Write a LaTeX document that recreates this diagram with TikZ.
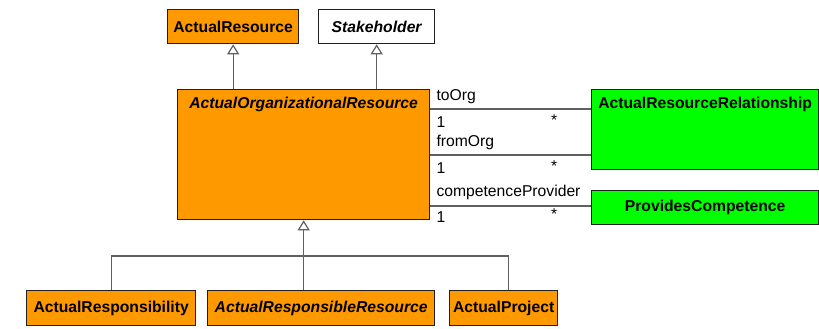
\documentclass[tikz,border=0pt]{standalone}
\usepackage{fontspec}
\setmainfont{Liberation Sans}
\usetikzlibrary{positioning,calc,arrows.meta}
\definecolor{umlOrangeFill}{HTML}{FF9900}
\definecolor{umlGreenFill}{HTML}{00FF00}
\definecolor{umlGreyLine}{HTML}{606060}
\definecolor{umlBoxLine}{HTML}{202020}
\tikzset{
  classbox/.style={
    draw=umlBoxLine, line width=1.3pt,
    anchor=north west, inner sep=0pt,
    font=\fontsize{15.7}{18}\selectfont\bfseries,
  },
  classtitle/.style={
    anchor=north, inner sep=0pt, yshift=-8pt,
    font=\fontsize{15.7}{18}\selectfont\bfseries,
  },
  gen arrow/.style={
    -{Triangle[open, length=10pt, width=12pt]},
    line width=1.2pt, color=umlGreyLine,
  },
  assoc line/.style={line width=1.2pt, color=umlGreyLine},
  role label/.style={anchor=west, inner sep=0pt,
    font=\fontsize{15.7}{18}\selectfont},
}

\begin{document}
\begin{tikzpicture}[x=1pt, y=-1pt]
\useasboundingbox (0,0) rectangle (819,329);

% --- TOP CLASSES ---
\node[classbox, fill=umlOrangeFill, minimum width=131pt, minimum height=34pt]
  (actres) at (167,9) {ActualResource};
\node[classbox, fill=white, minimum width=116pt, minimum height=34pt]
  (stake) at (318,9) {\itshape Stakeholder};

% --- CENTRAL CLASS ---
\node[classbox, fill=umlOrangeFill, minimum width=252pt, minimum height=130pt,
      label={[classtitle]north:{\itshape ActualOrganizationalResource}}]
  (aor) at (177,89) {};

% --- ASSOCIATED CLASSES ---
\node[classbox, fill=umlGreenFill, minimum width=227pt, minimum height=80pt,
      label={[classtitle]north:{ActualResourceRelationship}}]
  (relation) at (591,89) {};
\node[classbox, fill=umlGreenFill, minimum width=227pt, minimum height=34pt]
  (provcomp) at (591,190) {ProvidesCompetence};

% --- SUBCLASSES ---
\node[classbox, fill=umlOrangeFill, minimum width=169pt, minimum height=35pt]
  (respons) at (26,290) {ActualResponsibility};
\node[classbox, fill=umlOrangeFill, minimum width=227pt, minimum height=35pt]
  (respres) at (207,290) {\itshape ActualResponsibleResource};
\node[classbox, fill=umlOrangeFill, minimum width=108pt, minimum height=35pt]
  (project) at (449,290) {ActualProject};

% --- GENERALIZATIONS UP ---
\draw[gen arrow] (aor.north -| actres.south) -- (actres.south);
\draw[gen arrow] (aor.north -| stake.south) -- (stake.south);

% --- GENERALIZATION TREE BELOW ---
\coordinate (joint) at (aor.south |- 0,256);
\draw[gen arrow] (joint) -- (aor.south);
\draw[assoc line] (respons.north) |- (joint);
\draw[assoc line] (joint) -| ([xshift=5pt]project.north);
\draw[assoc line] (joint |- respres.north) -- (joint);

% --- ASSOCIATIONS ---
\draw[assoc line] (aor.east |- 0,109) -- (relation.west |- 0,109);
\draw[assoc line] (aor.east |- 0,155) -- (relation.west |- 0,155);
\draw[assoc line] (aor.east |- 0,206) -- (provcomp.west |- 0,206);

% --- ROLE NAMES AND MULTIPLICITIES ---
\node[role label] (toorg) at ([xshift=6pt]aor.east |- 0,97) {toOrg};
\node[role label] (toorgone) at ([xshift=6pt]aor.east |- 0,122) {1};
\node[role label] (toorgmany) at (551,120) {*};
\node[role label] (fromorg) at ([xshift=6pt]aor.east |- 0,142) {fromOrg};
\node[role label] (fromorgone) at ([xshift=6pt]aor.east |- 0,168) {1};
\node[role label] (fromorgmany) at (551,166) {*};
\node[role label] (provider) at ([xshift=6pt]aor.east |- 0,192) {competenceProvider};
\node[role label] (providerone) at ([xshift=6pt]aor.east |- 0,217) {1};
\node[role label] (providermany) at (551,214) {*};

\end{tikzpicture}
\end{document}
